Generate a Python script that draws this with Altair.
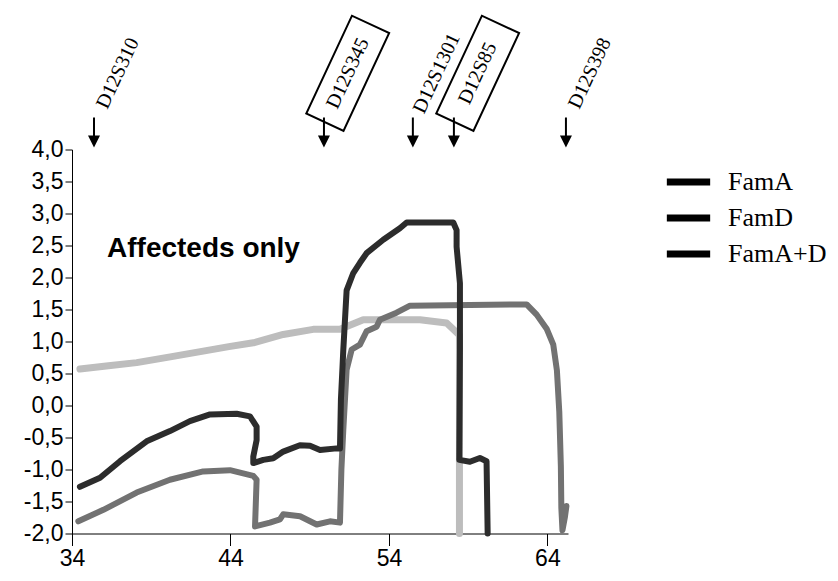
import altair as alt
import pandas as pd

# ---------------- data ----------------
SERIES = ["FamA", "FamD", "FamA+D"]
SERIES_COLORS = ["#2c2c2c", "#727272", "#bdbdbd"]
SERIES_WIDTHS = [6, 6, 7]

fama_x = [34.50, 35.77, 37.03, 38.71, 40.18, 41.44, 42.71, 44.39, 45.23, 45.65,
          45.65, 45.44, 45.44, 46.07, 46.70, 47.33, 48.38, 49.02, 49.65, 50.70,
          50.91, 50.97, 51.07, 51.12, 51.33, 51.75, 52.17, 52.59, 53.64, 54.69,
          55.12, 58.06, 58.27, 58.27, 58.48, 58.48, 58.44, 59.11, 59.74, 60.16, 60.23]
fama_y = [-1.27, -1.13, -0.87, -0.56, -0.40, -0.245, -0.14, -0.13, -0.17, -0.33,
          -0.54, -0.80, -0.90, -0.85, -0.825, -0.72, -0.62, -0.63, -0.695, -0.67,
          -0.67, 0.09, 0.60, 0.87, 1.80, 2.07, 2.23, 2.38, 2.59, 2.77,
          2.86, 2.86, 2.74, 2.48, 1.91, 0.87, -0.85, -0.88, -0.82, -0.87, -2.0]

famd_x = [34.40, 35.98, 38.08, 40.18, 42.28, 43.97, 45.44, 45.65, 45.55, 46.49,
          47.12, 47.33, 48.39, 49.44, 50.28, 50.91, 51.00, 51.12, 51.33, 51.65,
          52.17, 52.59, 53.22, 53.43, 54.48, 55.33, 62.69, 63.32, 63.95, 64.37,
          64.60, 64.75, 64.85, 64.88, 64.95, 65.10, 65.20]
famd_y = [-1.81, -1.63, -1.36, -1.16, -1.03, -1.01, -1.10, -1.16, -1.89, -1.83,
          -1.78, -1.70, -1.73, -1.86, -1.81, -1.83, -1.00, -0.38, 0.56, 0.875,
          0.95, 1.16, 1.23, 1.34, 1.45, 1.56, 1.58, 1.42, 1.20, 0.95,
          0.55, -0.10, -0.95, -1.60, -1.95, -1.75, -1.57]

famad_x = [34.50, 36.30, 38.08, 40.20, 42.28, 43.90, 45.44, 47.33, 49.22, 50.91,
           52.38, 54.06, 55.96, 57.64, 58.06, 58.45, 58.45]
famad_y = [0.57, 0.62, 0.67, 0.76, 0.85, 0.92, 0.98, 1.11, 1.19, 1.19,
           1.34, 1.34, 1.34, 1.29, 1.19, 1.10, -2.0]

MARKERS = ["D12S310", "D12S345", "D12S1301", "D12S85", "D12S398"]
MARKER_POS = [35.39, 49.90, 55.51, 58.10, 65.17]
MARKER_BOXED = [False, True, False, True, False]

X_TICKS = [34, 44, 54, 64]
Y_TICKS = [-2.0, -1.5, -1.0, -0.5, 0.0, 0.5, 1.0, 1.5, 2.0, 2.5, 3.0, 3.5, 4.0]
ANNOTATION = "Affecteds only"

# ---------------- build tables ----------------
def series_frame(xs, ys, name):
    return pd.DataFrame({"x": xs, "y": ys, "series": name, "idx": range(len(xs))})

frames = [series_frame(fama_x, fama_y, SERIES[0]),
          series_frame(famd_x, famd_y, SERIES[1]),
          series_frame(famad_x, famad_y, SERIES[2])]

LABEL_SHIFT = 1.5  # label/box centre offset to the right of the arrow (x units)
markers = pd.DataFrame({"name": MARKERS, "pos": MARKER_POS, "boxed": MARKER_BOXED})

xscale = alt.Scale(domain=[34, 65.3], nice=False, zero=False)
yscale = alt.Scale(domain=[-2, 4], nice=False, zero=False)

label_expr = "replace(replace(format(datum.value, '.1f'), '.', ','), '\u2212', '-')"

x_axis = alt.Axis(values=X_TICKS, format="d", title=None, grid=False,
                  tickSize=12, labelPadding=2, labelFont="Liberation Sans",
                  labelFontSize=23, labelColor="black", domainColor="black",
                  tickColor="black", labelFlush=False, labelOverlap=False)
y_axis = alt.Axis(values=Y_TICKS, labelExpr=label_expr, title=None, grid=False,
                  tickSize=7, labelPadding=2, labelFont="Liberation Sans",
                  labelFontSize=23, labelColor="black", domainColor="black",
                  tickColor="black", labelFlush=False, labelOverlap=False)


def X(field):
    return alt.X(field, scale=xscale, axis=x_axis)


def Y(field):
    return alt.Y(field, scale=yscale, axis=y_axis)


layers = []
# draw order: light (bottom), medium, dark (top)
for i in [2, 1, 0]:
    layers.append(
        alt.Chart(frames[i]).mark_line(
            color=SERIES_COLORS[i], strokeWidth=SERIES_WIDTHS[i],
            strokeCap="round", strokeJoin="round"
        ).encode(x=X("x:Q"), y=Y("y:Q"), order="idx:Q")
    )

# legend (all black entries, as in the reference)
LEG_SYMBOL = "M-2.2,0L2.2,0"
legend_layer = alt.Chart(alt.Data(values=[])).mark_line().encode(
    x=X("x:Q"),
    y=Y("y:Q"),
    stroke=alt.Stroke(
        "series:N",
        scale=alt.Scale(domain=SERIES, range=["black", "black", "black"]),
        legend=alt.Legend(
            title=None, orient="none", legendX=603, legendY=19,
            symbolType=LEG_SYMBOL, symbolSize=388, symbolStrokeWidth=7,
            labelFont="Liberation Serif", labelFontSize=26, labelColor="black",
            labelOffset=26, rowPadding=7, padding=0, labelLimit=300,
        ),
    ),
)
layers.append(legend_layer)

base_m = alt.Chart(markers).transform_calculate(
    label_x=f"datum.pos + {LABEL_SHIFT}",
    shaft_top="4.5", shaft_bottom="4.2", head_y="4.125", label_y="5.19",
)
shafts = base_m.mark_rule(color="black", strokeWidth=2).encode(
    x=X("pos:Q"), y=Y("shaft_top:Q"), y2="shaft_bottom:Q")
heads = base_m.mark_point(shape="M-1,-1L1,-1L0,1Z", size=144, filled=True,
                          color="black", opacity=1).encode(
    x=X("pos:Q"), y=Y("head_y:Q"))
labels = base_m.mark_text(angle=295, font="Liberation Serif", fontSize=20,
                          align="center", baseline="middle", color="black").encode(
    x=X("label_x:Q"), y=Y("label_y:Q"), text="name:N")
boxes = base_m.transform_filter("datum.boxed").mark_point(
    shape="M-1,-0.38L1,-0.38L1,0.38L-1,0.38Z", size=11664, filled=False,
    strokeWidth=2, color="black", opacity=1, angle=295).encode(
    x=X("label_x:Q"), y=Y("label_y:Q"))

annot = alt.Chart(pd.DataFrame({"t": [ANNOTATION], "x": [36.21], "y": [2.325]})).mark_text(
    font="Liberation Sans", fontWeight="bold", fontSize=28, align="left",
    baseline="alphabetic", color="black").encode(x=X("x:Q"), y=Y("y:Q"), text="t:N")

layers += [shafts, heads, labels, boxes, annot]

chart = alt.layer(*layers).properties(
    width=496, height=384,
    autosize=alt.AutoSizeParams(type="none"),
    padding={"left": 64, "top": 141.5, "right": 262, "bottom": 39},
    background="white",
).configure_view(stroke=None).configure_axis(labelOverlap=False)

chart.save("out.html", embed_options={"renderer": "svg", "actions": False})
